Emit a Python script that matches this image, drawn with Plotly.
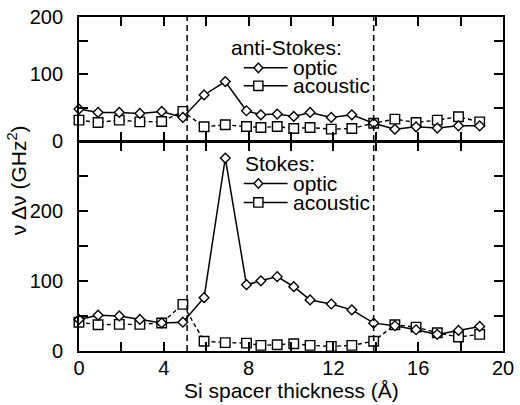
import plotly.graph_objects as go

# ---------------- data ----------------
thickness = [0, 0.9, 1.9, 2.87, 3.9, 4.9, 5.9, 6.9, 7.9, 8.58, 9.35, 10.13,
             10.9, 11.9, 12.87, 13.9, 14.9, 15.9, 16.9, 17.9, 18.9]

anti_optic = [48, 43, 43, 41.5, 44.5, 35.5, 69, 89, 45.5, 39.5, 40.5, 37,
              43, 35.5, 39.5, 27, 18, 21.6, 19.7, 23, 23]
anti_acoustic = [31.6, 28, 31.6, 29, 29.5, 44.5, 21.6, 24.6, 22, 20.6, 22, 19,
                 20.6, 18.2, 19, 27, 33, 28, 31.6, 36.5, 29]

stokes_optic = [45, 51, 50, 45, 40, 41, 76, 275, 94.5, 100, 106, 91.6,
                72.8, 67, 58.6, 39.7, 36, 30.3, 23.7, 29.3, 35]
stokes_acoustic = [41, 37.4, 38, 38, 40, 66.5, 14, 12, 11.3, 8, 9, 10.4,
                   8, 6.6, 8, 14, 37.4, 34, 26, 20, 23.7]

boundaries = [5.1, 13.9]

x_tickvals = [0, 2, 4, 6, 8, 10, 12, 14, 16, 18, 20]
x_ticktext = ["0", "", "4", "", "8", "", "12", "", "16", "", "20"]
top_tickvals = [0, 50, 100, 150, 185]
top_ticktext = ["0", "", "100", "", "200"]
bot_tickvals = [0, 50, 100, 150, 200, 250]
bot_ticktext = ["0", "", "100", "", "200", ""]

# ---------------- layout geometry ----------------
W, H = 520, 405
ML, MR, MT, MB = 79, 6, 16, 54
PW, PH = W - ML - MR, H - MT - MB
LW = 1.8


def px(x):
    return (x - ML) / PW


def py(y):
    return (H - MB - y) / PH


split = py(141.5)
split_top = split + 0.8 / PH   # frame lines of the two panels partly overlap
FONT = "Liberation Sans, Arial, Helvetica, sans-serif"

fig = go.Figure()

optic_marker = dict(symbol="diamond", size=7.5, color="white",
                    line=dict(color="black", width=1.4))
ac_marker = dict(symbol="square", size=9.5, color="white",
                 line=dict(color="black", width=1.4))

# bottom panel (Stokes)
fig.add_trace(go.Scatter(x=thickness, y=stokes_acoustic, mode="lines+markers",
                         line=dict(color="black", width=1.4, dash="4px,3px"),
                         marker=ac_marker, cliponaxis=False, showlegend=False,
                         xaxis="x", yaxis="y"))
fig.add_trace(go.Scatter(x=thickness, y=stokes_optic, mode="lines+markers",
                         line=dict(color="black", width=1.5),
                         marker=optic_marker, cliponaxis=False, showlegend=False,
                         xaxis="x", yaxis="y"))
# top panel (anti-Stokes)
fig.add_trace(go.Scatter(x=thickness, y=anti_acoustic, mode="lines+markers",
                         line=dict(color="black", width=1.4, dash="4px,3px"),
                         marker=ac_marker, cliponaxis=False, showlegend=False,
                         xaxis="x2", yaxis="y2"))
fig.add_trace(go.Scatter(x=thickness, y=anti_optic, mode="lines+markers",
                         line=dict(color="black", width=1.5),
                         marker=optic_marker, cliponaxis=False, showlegend=False,
                         xaxis="x2", yaxis="y2"))

axis_common = dict(ticks="inside", ticklen=9, tickwidth=1.5, tickcolor="black",
                   showline=True, linewidth=LW, linecolor="black", mirror="ticks",
                   showgrid=False, zeroline=False,
                   tickfont=dict(family=FONT, size=20, color="black"))

fig.update_layout(
    width=W, height=H,
    margin=dict(l=ML, r=MR, t=MT, b=MB),
    paper_bgcolor="white", plot_bgcolor="white",
    xaxis=dict(domain=[0, 1], anchor="y", range=[0, 20],
               tickmode="array", tickvals=x_tickvals, ticktext=x_ticktext,
               ticklabelstandoff=-2, ticklabeloverflow="allow", **axis_common),
    xaxis2=dict(domain=[0, 1], anchor="y2", range=[0, 20], matches="x",
                tickmode="array", tickvals=x_tickvals, showticklabels=False,
                **axis_common),
    yaxis=dict(domain=[0, split], anchor="x", range=[0, 297.7],
               tickmode="array", tickvals=bot_tickvals, ticktext=bot_ticktext,
               ticklabelstandoff=10, **axis_common),
    yaxis2=dict(domain=[split_top, 1], anchor="x2", range=[0, 185],
                tickmode="array", tickvals=top_tickvals, ticktext=top_ticktext,
                ticklabelstandoff=10, **axis_common),
)

# vertical dashed boundaries
for b in boundaries:
    fig.add_shape(type="line", xref="x", yref="paper", x0=b, x1=b, y0=0, y1=1,
                  line=dict(color="black", width=1.5, dash="6px,4px"))


# manual legends
def legend_block(title, title_x, title_y, rows):
    fig.add_annotation(text=title, xref="paper", yref="paper",
                       x=px(title_x), y=py(title_y),
                       xanchor="left", yanchor="middle", showarrow=False,
                       font=dict(family=FONT, size=21, color="black"))
    for label, ry, sym in rows:
        fig.add_shape(type="line", xref="paper", yref="paper",
                      x0=px(248), x1=px(293), y0=py(ry), y1=py(ry),
                      line=dict(color="black", width=1.5))
        cx, cy = 263, ry
        if sym == "diamond":
            path = "M {} {} L {} {} L {} {} L {} {} Z".format(
                px(cx - 4.5), py(cy), px(cx), py(cy - 4.8),
                px(cx + 4.5), py(cy), px(cx), py(cy + 4.8))
        else:
            path = "M {} {} L {} {} L {} {} L {} {} Z".format(
                px(cx - 4.7), py(cy - 4.7), px(cx + 4.7), py(cy - 4.7),
                px(cx + 4.7), py(cy + 4.7), px(cx - 4.7), py(cy + 4.7))
        fig.add_shape(type="path", xref="paper", yref="paper", path=path,
                      fillcolor="white", line=dict(color="black", width=1.4))
        fig.add_annotation(text=label, xref="paper", yref="paper",
                           x=px(296), y=py(ry),
                           xanchor="left", yanchor="middle",
                           showarrow=False,
                           font=dict(family=FONT, size=21, color="black"))


legend_block("anti-Stokes:", 233, 47, [("optic", 67, "diamond"), ("acoustic", 85, "square")])
legend_block("Stokes:", 247, 163, [("optic", 183, "diamond"), ("acoustic", 202, "square")])

# axis titles
fig.add_annotation(text="ν Δν (GHz<sup>2</sup>)", xref="paper", yref="paper",
                   x=px(15), y=py(180), textangle=-90, showarrow=False,
                   xanchor="center", yanchor="middle",
                   font=dict(family=FONT, size=21, color="black"))
fig.add_annotation(text="Si spacer thickness (Å)", xref="paper", yref="paper",
                   x=px(297.5), y=py(391), showarrow=False,
                   xanchor="center", yanchor="middle",
                   font=dict(family=FONT, size=21, color="black"))

fig.write_html("out.html")
